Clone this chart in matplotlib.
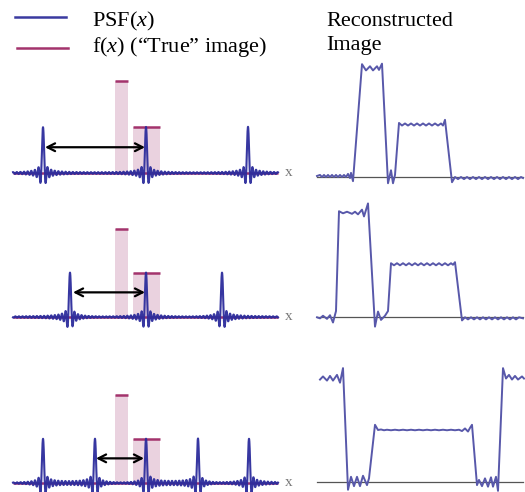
import numpy as np
import matplotlib
matplotlib.use("Agg")
import matplotlib.pyplot as plt

plt.rcParams['font.family'] = ['Liberation Serif', 'DejaVu Serif']
plt.rcParams['mathtext.fontset'] = 'custom'
plt.rcParams['mathtext.rm'] = 'Liberation Serif'
plt.rcParams['mathtext.it'] = 'Liberation Serif:italic'

# ---------------- data ----------------
legend_labels = ["PSF($x$)", "f($x$) (\u201cTrue\u201d image)"]
title_lines = ["Reconstructed", "Image"]

# left column: replica positions of the PSF (relative to the central replica)
psf_positions = [[-103, 0, 102], [-76, 0, 76], [-103, -51, 0, 52, 103]]
psf_height = 1.0
psf_width = 1.8
# true image: two boxes
true_left = [-31, -13]
true_right = [-18, 14]
true_height = [2.0, 1.0]
# double arrows (FOV spacing)
arrow_spans = [(-101, -1), (-73, -1), (-50, -2)]
arrow_level = 0.56
x_extent = (-133, 132)

# right column: reconstructed images (position, intensity)
recon_panel1 = [(0, 0.01), (3, 0.03), (5, -0.01), (7, 0.03), (9, -0.01), (11, 0.03), (13, -0.01),
                (15, 0.03), (17, -0.01), (19, 0.03), (21, -0.01), (23, 0.03), (25, -0.01), (27, 0.03),
                (29, -0.01), (31, 0.05), (33, -0.03), (34, 0.07), (36, -0.09), (45, 2.16), (49, 2.04),
                (53, 2.12), (56, 2.04), (60, 2.12), (62, 2.05), (65, 2.17), (71, -0.13), (74, 0.12),
                (76, -0.13), (78, 0.03), (82, 1.03), (85, 0.98), (88, 1.02), (91, 0.98), (94, 1.02),
                (97, 0.98), (100, 1.02), (103, 0.98), (106, 1.02), (109, 0.98), (112, 1.02), (115, 0.98),
                (118, 1.02), (121, 0.98), (124, 1.02), (126, 0.98), (128, 1.09), (135, -0.11),
                (138, -0.01), (141, -0.05), (144, -0.01), (147, -0.05), (150, -0.01), (153, -0.05),
                (156, -0.01), (159, -0.05), (162, -0.01), (165, -0.05), (168, -0.01), (171, -0.05),
                (174, -0.01), (177, -0.05), (180, -0.01), (183, -0.05), (186, -0.01), (189, -0.05),
                (192, -0.01), (195, -0.05), (198, -0.01), (201, -0.05), (204, -0.01), (206, -0.03)]
recon_panel2 = [(0, 0.0), (3, -0.02), (6, 0.03), (10, -0.03), (13, 0.04), (16, -0.10), (19, 0.12),
                (22, 2.04), (26, 2.00), (30, 2.03), (35, 1.99), (38, 2.03), (41, 1.98), (45, 2.07),
                (47, 1.94), (51, 2.19), (58, -0.18), (61, 0.11), (64, -0.05), (68, 0.03), (71, 0.12),
                (74, 1.04), (77, 1.00), (80, 1.04), (83, 1.00), (86, 1.04), (89, 1.00), (92, 1.04),
                (95, 1.00), (98, 1.04), (101, 1.00), (104, 1.04), (107, 1.00), (110, 1.04), (113, 1.00),
                (116, 1.04), (119, 1.00), (122, 1.04), (125, 1.00), (128, 1.04), (131, 1.00), (134, 1.04),
                (136, 1.01), (138, 1.06), (145, -0.06), (148, 0.00), (151, -0.04), (154, 0.00),
                (157, -0.04), (160, 0.00), (163, -0.04), (166, 0.00), (169, -0.04), (172, 0.00),
                (175, -0.04), (178, 0.00), (181, -0.04), (184, 0.00), (187, -0.04), (190, 0.00),
                (193, -0.04), (196, 0.00), (199, -0.04), (202, 0.00), (206, -0.02)]
recon_panel3 = [(3, 1.97), (6, 2.03), (10, 1.95), (13, 2.04), (16, 1.95), (20, 2.06), (23, 1.91),
                (26, 2.19), (31, -0.15), (34, 0.10), (37, -0.08), (40, 0.10), (43, -0.08), (46, 0.12),
                (50, -0.06), (52, 0.07), (58, 1.10), (61, 1.00), (64, 1.01), (67, 0.995), (70, 1.005),
                (74, 0.995), (78, 1.005), (82, 0.995), (86, 1.005), (90, 0.995), (94, 1.005), (98, 0.995),
                (102, 1.005), (106, 0.995), (110, 1.005), (114, 0.995), (118, 1.005), (122, 0.995),
                (126, 1.005), (130, 0.995), (134, 1.005), (138, 0.995), (142, 1.005), (145, 0.98),
                (148, 1.03), (151, 0.97), (153, 1.04), (155, 1.10), (160, -0.06), (162, 0.04),
                (165, -0.08), (168, 0.07), (171, -0.09), (174, 0.09), (176, -0.09), (179, 0.10),
                (181, -0.17), (186, 2.19), (189, 1.99), (192, 2.06), (195, 1.97), (198, 2.04),
                (201, 1.97), (205, 2.03), (207, 1.99)]
recon_panels = [recon_panel1, recon_panel2, recon_panel3]
recon_extent = (0, 206)

# ---------------- style ----------------
PSF_BLUE = '#2c2c9c'
LEG_BLUE = '#3a3aa0'
MAGENTA = '#a3336c'
PINK = '#ead2df'
RECON_BLUE = '#5858aa'
GRAY = '#555555'

W, H = 525, 492
fig = plt.figure(figsize=(W / 100, H / 100), dpi=100)


def px_axes(x0, x1, top, bot, xlim, base, unit):
    ax = fig.add_axes([x0 / W, 1 - bot / H, (x1 - x0) / W, (bot - top) / H])
    ax.set_xlim(*xlim)
    ax.set_ylim(-(bot - base) / unit, (base - top) / unit)
    ax.axis('off')
    return ax


left_boxes = [(65, 190, 173, 46), (190, 335, 317, 44), (335, 492, 483, 44)]
right_boxes = [(55, 190, 176.5, 52), (190, 335, 317.3, 52), (335, 492, 482, 52)]

for i, (top, bot, base, unit) in enumerate(left_boxes):
    ax = px_axes(0, 300, top, bot, (-146, 154), base, unit)
    # true image boxes
    centers = [(l + r) / 2 for l, r in zip(true_left, true_right)]
    widths = [r - l for l, r in zip(true_left, true_right)]
    ax.bar(centers, true_height, width=widths, color=PINK, edgecolor='none', zorder=1)
    ax.hlines(true_height, true_left, true_right, color=MAGENTA, lw=1.8, zorder=2)
    # baseline
    ax.plot(x_extent, [0, 0], color=MAGENTA, lw=1.8, zorder=2, solid_capstyle='butt')
    # PSF
    xs = np.arange(x_extent[0], x_extent[1], 0.03)
    ys = np.zeros_like(xs)
    for p in psf_positions[i]:
        ys += psf_height * np.sinc((xs - p) / psf_width)
    ax.plot(xs, ys, color=PSF_BLUE, lw=1.5, zorder=3, clip_on=False, alpha=0.95)
    # arrow
    a0, a1 = arrow_spans[i]
    ax.annotate('', xy=(a1, arrow_level), xytext=(a0, arrow_level),
                arrowprops=dict(arrowstyle='<->,head_length=0.55,head_width=0.28',
                                color='black', lw=1.6, shrinkA=0, shrinkB=0), zorder=4)
    ax.text(x_extent[1] + 11, 0.0, 'x', color='#777777', fontsize=11, ha='center', va='center')

for i, (top, bot, base, unit) in enumerate(right_boxes):
    ax = px_axes(300, 525, top, bot, (-17, 208), base, unit)
    ax.plot(recon_extent, [0, 0], color=GRAY, lw=0.9, zorder=1)
    pts = np.array(recon_panels[i])
    ax.plot(pts[:, 0], pts[:, 1], color=RECON_BLUE, lw=1.4, zorder=2, clip_on=False)

# legend and titles
ov = fig.add_axes([0, 0, 1, 1])
ov.set_xlim(0, W)
ov.set_ylim(H, 0)
ov.axis('off')
ov.plot([15, 66], [16.7, 16.7], color=LEG_BLUE, lw=1.8)
ov.plot([17, 68], [47.7, 47.7], color=MAGENTA, lw=1.8)
ov.text(92, 26.5, legend_labels[0], fontsize=16, va='baseline', ha='left')
ov.text(92, 52, legend_labels[1], fontsize=16, va='baseline', ha='left')
ov.text(326, 26, title_lines[0], fontsize=16, va='baseline', ha='left')
ov.text(326, 50, title_lines[1], fontsize=16, va='baseline', ha='left')

fig.savefig('out.png', dpi=100)
